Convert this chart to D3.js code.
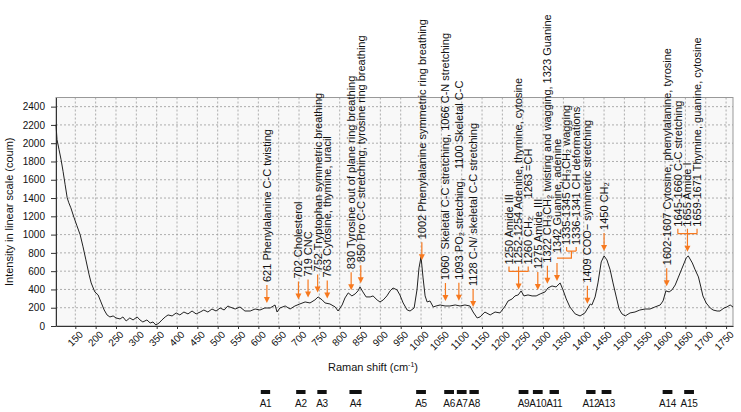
<!DOCTYPE html>
<meta charset="utf-8">
<style>
body { margin: 0; background: #fff; }
svg text { font-family: "Liberation Sans", Arial, sans-serif; fill: #111; }
.grid line { stroke: #9a9a9a; stroke-dasharray: 2,2; stroke-width: 0.8; }
.axis path, .axis line { stroke: #333; }
.axis text { font-size: 10px; }
.note { font-size: 11px; white-space: pre; }
.band { font-size: 10px; letter-spacing: -0.3px; }
.pointer { stroke: #f7791f; stroke-width: 1.2; fill: none; }
.head { fill: #f7791f; }
</style>
<body>
<svg width="741" height="412"></svg>
<script src="https://d3js.org/d3.v7.min.js"></script>
<script>

// spectrum: Raman shift (cm-1) and intensity (counts)
var shift = [102.5, 105, 110, 115, 120, 125, 130, 134, 139, 147, 154, 162, 169, 176, 184, 189, 193, 198, 206, 213,
  221, 228, 235, 243, 250, 260, 267, 275, 284, 292, 302, 309, 316, 326, 334, 341, 348, 356, 363, 371,
  378, 388, 398, 407, 417, 427, 437, 447, 457, 466, 476, 486, 496, 506, 516, 525, 530, 543, 555, 567,
  580, 592, 604, 616, 629, 641, 646, 653, 666, 678, 690, 702, 715, 727, 739, 747, 757, 764, 776, 789,
  796, 806, 813, 821, 830, 838, 845, 850, 857, 865, 875, 882, 892, 899, 907, 916, 924, 931, 941, 948,
  956, 966, 973, 983, 990, 995, 1000, 1005, 1010, 1015, 1022, 1030, 1037, 1047, 1059, 1071, 1084, 1096, 1108, 1120,
  1128, 1138, 1145, 1157, 1170, 1182, 1194, 1207, 1214, 1224, 1231, 1239, 1246, 1253, 1263, 1273, 1283, 1293, 1305, 1312,
  1322, 1332, 1342, 1349, 1357, 1366, 1379, 1391, 1403, 1416, 1420, 1428, 1435, 1443, 1450, 1457, 1465, 1472, 1480, 1487,
  1494, 1502, 1514, 1526, 1538, 1551, 1563, 1575, 1588, 1595, 1602, 1610, 1617, 1625, 1632, 1640, 1647, 1652, 1657, 1667,
  1674, 1682, 1688, 1693, 1701, 1711, 1718, 1728, 1735, 1745, 1752, 1760, 1767];
var intensity = [2203, 2039, 1929, 1819, 1688, 1545, 1403, 1348, 1293, 1184, 1096, 997, 866, 723, 559, 471, 427, 373, 340, 263,
  175, 121, 99, 110, 88, 77, 99, 55, 88, 66, 99, 66, 44, 66, 33, 44, 11, 33, 66, 99,
  121, 110, 143, 121, 153, 132, 164, 132, 153, 175, 153, 186, 164, 197, 175, 219, 208, 186, 208, 164,
  164, 186, 175, 197, 197, 230, 153, 197, 219, 186, 219, 241, 263, 252, 285, 318, 285, 252, 241, 208,
  164, 230, 307, 362, 329, 351, 384, 427, 373, 318, 318, 329, 285, 263, 285, 329, 384, 416, 395, 340,
  252, 175, 164, 197, 395, 636, 756, 526, 329, 263, 274, 208, 219, 230, 219, 219, 230, 219, 230, 219,
  153, 88, 99, 153, 121, 153, 143, 219, 274, 296, 329, 340, 384, 329, 340, 329, 329, 351, 373, 416,
  438, 427, 471, 395, 296, 208, 132, 110, 143, 241, 230, 318, 471, 701, 767, 723, 614, 471, 318, 186,
  132, 110, 143, 153, 175, 186, 186, 208, 230, 274, 384, 373, 395, 449, 526, 614, 690, 745, 767, 690,
  614, 537, 427, 329, 252, 197, 175, 164, 164, 197, 208, 230, 208];

var xTickValues = [150, 200, 250, 300, 350, 400, 450, 500, 550, 600, 650, 700, 750, 800, 850, 900, 950,
  1000, 1050, 1100, 1150, 1200, 1250, 1300, 1350, 1400, 1450, 1500, 1550, 1600, 1650, 1700, 1750];
var yTickValues = [0, 200, 400, 600, 800, 1000, 1200, 1400, 1600, 1800, 2000, 2200, 2400];

// band markers under the axis
var bandNames = ["A1", "A2", "A3", "A4", "A5", "A6", "A7", "A8", "A9", "A10", "A11", "A12", "A13", "A14", "A15"];
var bandFrom = [606, 693, 745, 824, 988, 1057, 1088, 1119, 1240, 1275, 1316, 1406, 1444, 1594, 1647];
var bandTo   = [629, 716, 768, 854, 1012, 1081, 1112, 1142, 1264, 1299, 1339, 1429, 1468, 1618, 1671];

// peak assignments (arrow at peak, one or more labels)
var notePeaks = [621, 702, 719, 752, 763, 830, 850, 1002, 1060, 1093, 1128, 1256, 1275, 1322, 1342, 1409, 1450, 1604, 1655];
var noteTexts = [
  ["621 Phenylalanine C-C twisting"],
  ["702 Cholesterol"],
  ["719 CNC"],
  ["752 Tryptophan symmetric breathing"],
  ["763 Cytosine, thymine, uracil"],
  ["830 Tyrosine out of plane ring breathing"],
  ["850 Pro C-C stretching, tyrosine ring breathing"],
  ["1002 Phenylalanine symmetric ring breathing"],
  ["1060  Skeletal C-C stretching, 1066 C-N stretching"],
  ["1093 PO\u2082 stretching,   1100 Skeletal C-C"],
  ["1128 C-N/ skeletal C-C stretching"],
  ["1250 Amide III", "1252-1254 Adenine, thymine, cytosine", "1260 CH\u2082      1263 =CH"],
  ["1275 Amide III"],
  ["1322 CH\u2083CH\u2082 twisting and wagging, 1323 Guanine"],
  ["1342 Guanine, adenine", "1335-1345 CH\u2083CH\u2082 wagging", "1336-1341 CH deformations"],
  ["1409 COO\u2212 symmetric stretching"],
  ["1450 CH\u2082"],
  ["1602-1607 Cytosine, phenylalanine, tyrosine"],
  ["1645-1660 C-C stretching", "1655 Amide I", "1659-1671 Thymine, guanine, cytosine"]
];
// index of first bracketed label in each group (-1 = none)
var noteBracket = [-1, -1, -1, -1, -1, -1, -1, -1, -1, -1, -1, 0, -1, -1, 1, -1, -1, -1, 0];

var svg = d3.select("svg");
var plotL = 56, plotR = 733, plotT = 97.5, plotB = 326;

var x = d3.scaleLinear().domain(d3.extent(shift)).range([plotL, plotR]);
var y = d3.scaleLinear().domain([0, 2500]).range([plotB, plotT]);

svg.append("rect")
    .attr("x", plotL).attr("y", plotT)
    .attr("width", plotR - plotL).attr("height", plotB - plotT)
    .attr("fill", "#f8f8f8")
    .attr("stroke", "#999");

var grid = svg.append("g").attr("class", "grid");
grid.selectAll(".vx").data(xTickValues).enter().append("line")
    .attr("x1", function(d) { return x(d); }).attr("x2", function(d) { return x(d); })
    .attr("y1", plotT).attr("y2", plotB);
grid.selectAll(".hy").data(yTickValues.slice(1)).enter().append("line")
    .attr("x1", plotL).attr("x2", plotR)
    .attr("y1", function(d) { return y(d); }).attr("y2", function(d) { return y(d); });

var xAxis = svg.append("g")
    .attr("class", "axis")
    .attr("transform", "translate(0," + plotB + ")")
    .call(d3.axisBottom(x).tickValues(xTickValues).tickFormat(d3.format("d")).tickSize(3).tickSizeOuter(0));
xAxis.selectAll("text")
    .attr("text-anchor", "end")
    .attr("dx", "-0.1em")
    .attr("dy", "0.6em")
    .attr("transform", "rotate(-45)");

svg.append("g")
    .attr("class", "axis")
    .attr("transform", "translate(" + plotL + ",0)")
    .call(d3.axisLeft(y).tickValues(yTickValues).tickFormat(d3.format("d")).tickSize(5).tickPadding(6).tickSizeOuter(0));

svg.append("text")
    .attr("transform", "translate(13," + ((plotT + plotB) / 2) + ") rotate(-90)")
    .attr("text-anchor", "middle")
    .style("font-size", "11px")
    .text("Intensity in linear scale (coum)");

var xt = svg.append("text")
    .attr("x", 373)
    .attr("y", 371)
    .attr("text-anchor", "middle")
    .style("font-size", "11px");
xt.append("tspan").text("Raman shift (cm");
xt.append("tspan").attr("dy", -4).style("font-size", "7px").text("-1");
xt.append("tspan").attr("dy", 4).text(")");

// spectrum
var line = d3.line()
    .x(function(d, i) { return x(shift[i]); })
    .y(function(d) { return y(d); });
svg.append("path")
    .datum(intensity)
    .attr("d", line)
    .attr("fill", "none")
    .attr("stroke", "#222")
    .attr("stroke-width", 1);

// band markers
var bands = svg.append("g");
bands.selectAll("rect").data(bandNames).enter().append("rect")
    .attr("x", function(d, i) { return x(bandFrom[i]); })
    .attr("width", function(d, i) { return x(bandTo[i]) - x(bandFrom[i]); })
    .attr("y", 390)
    .attr("height", 4)
    .attr("fill", "#111");
bands.selectAll("text").data(bandNames).enter().append("text")
    .attr("class", "band")
    .attr("x", function(d, i) { return x((bandFrom[i] + bandTo[i]) / 2); })
    .attr("y", 407)
    .attr("text-anchor", "middle")
    .text(function(d) { return d; });

// curve value at a given shift
function valueAt(w) {
  var i = d3.bisectLeft(shift, w);
  if (i <= 0) return intensity[0];
  if (i >= shift.length) return intensity[shift.length - 1];
  var t = (w - shift[i - 1]) / (shift[i] - shift[i - 1]);
  return intensity[i - 1] + t * (intensity[i] - intensity[i - 1]);
}

// labels: start at their peak, then push apart so they don't overlap
var labels = [];
notePeaks.forEach(function(p, g) {
  noteTexts[g].forEach(function(t, j) {
    labels.push({ group: g, idx: j, text: t, x: x(p) });
  });
});
var gap = 9.6;
for (var k = 0; k < 300; k++) {
  for (var i = 1; i < labels.length; i++) {
    var d = labels[i].x - labels[i - 1].x;
    if (d < gap) {
      labels[i - 1].x -= (gap - d) / 2;
      labels[i].x += (gap - d) / 2;
    }
  }
}

var notes = svg.append("g");
notePeaks.forEach(function(p, g) {
  var labs = labels.filter(function(l) { return l.group === g; });
  var b = noteBracket[g];
  var ax = b === 0 ? d3.mean(labs, function(l) { return l.x; }) : labs[0].x;
  var tip = y(valueAt(x.invert(ax))) - 5;
  var aTop = tip - 18;

  notes.append("line").attr("class", "pointer")
      .attr("x1", ax).attr("x2", ax).attr("y1", aTop).attr("y2", tip - 5);
  notes.append("path").attr("class", "head")
      .attr("d", "M" + (ax - 3) + "," + (tip - 6) + "L" + (ax + 3) + "," + (tip - 6) + "L" + ax + "," + tip + "Z");

  if (b < 0) {
    labs[0].bottom = aTop - 3;
  } else if (b === 0) {
    var x0 = d3.min(labs, function(l) { return l.x; }), x1 = d3.max(labs, function(l) { return l.x; });
    var pb = "M" + x0 + "," + aTop + "H" + x1;
    labs.forEach(function(l) {
      l.bottom = aTop - 7;
      pb += "M" + l.x + "," + (aTop - 5) + "V" + aTop;
    });
    notes.append("path").attr("class", "pointer").attr("d", pb);
  } else {
    labs[0].bottom = aTop - 10;
    var br = labs.slice(b);
    var bx0 = br[0].x, bx1 = br[br.length - 1].x, by = aTop - 12;
    var pc = "M" + bx0 + "," + by + "H" + bx1;
    br.forEach(function(l) {
      l.bottom = by - 6;
      pc += "M" + l.x + "," + (by - 4) + "V" + by;
    });
    pc += "M" + ((bx0 + bx1) / 2) + "," + by + "V" + (aTop - 5) + "H" + ax;
    notes.append("path").attr("class", "pointer").attr("d", pc);
  }
});

notes.selectAll("text").data(labels).enter().append("text")
    .attr("class", "note")
    .attr("transform", function(l) { return "translate(" + l.x + "," + l.bottom + ") rotate(-90)"; })
    .attr("dy", "0.35em")
    .text(function(l) { return l.text; });

</script>
</body>
